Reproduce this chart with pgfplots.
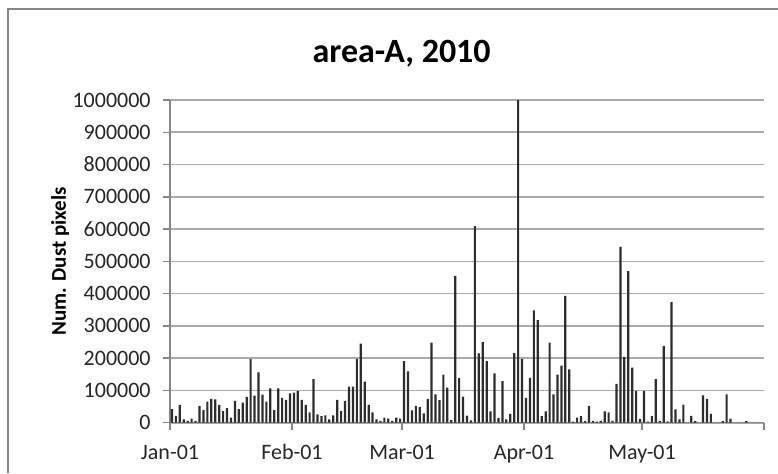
\documentclass[border=0pt]{standalone}
\usepackage{fontspec}
\setmainfont{Carlito}
\usepackage{pgfplots}
\pgfplotsset{compat=1.18}
\usepackage{pgfplotstable}
\definecolor{gridc}{RGB}{170,170,170}
\definecolor{axc}{RGB}{134,134,134}
\definecolor{barc}{RGB}{45,45,45}
\pgfplotstableread{
day val
0 42000
1 21000
2 55000
3 10000
4 6000
5 13000
6 6000
7 52000
8 39000
9 65000
10 74000
11 72000
12 55000
13 36000
14 45000
15 16000
16 68000
17 42000
18 62000
19 80000
20 197000
21 84000
22 156000
23 87000
24 65000
25 106000
26 39000
27 106000
28 77000
29 71000
30 91000
31 93000
32 99000
33 71000
34 55000
35 32000
36 135000
37 26000
38 20000
39 23000
40 10000
41 23000
42 71000
43 36000
44 68000
45 112000
46 112000
47 198000
48 245000
49 127000
50 55000
51 32000
52 10000
53 6000
54 16000
55 13000
56 6000
57 16000
58 13000
59 191000
60 159000
61 38000
62 52000
63 48000
64 29000
65 74000
66 248000
67 88000
68 70000
69 149000
70 109000
71 8000
72 455000
73 139000
74 81000
75 22000
76 7000
77 609000
78 215000
79 250000
80 191000
81 35000
82 153000
83 15000
84 129000
85 10000
86 27000
87 216000
88 1000000
89 198000
90 77000
91 139000
92 348000
93 318000
94 20000
95 35000
96 248000
97 88000
98 149000
99 177000
100 393000
101 165000
102 3000
103 16000
104 20000
105 5000
106 52000
107 6000
108 3000
109 6000
110 35000
111 32000
112 6000
113 120000
114 545000
115 204000
116 470000
117 171000
118 99000
119 12000
120 99000
121 3000
122 20000
123 135000
124 6000
125 238000
126 4000
127 374000
128 41000
129 10000
130 56000
132 21000
133 5000
135 85000
136 74000
137 27000
140 5000
141 88000
142 13000
146 5000
}\dusttable
\begin{document}
\begin{tikzpicture}
\path[use as bounding box] (0,0) rectangle (389pt,236.5pt);
\fill[white] (0,0) rectangle (389pt,236.5pt);
\draw[axc, line width=0.9pt] (4pt,0) -- (4pt,232pt) -- (389pt,232pt);
\begin{axis}[
  at={(85pt,25.15pt)}, anchor=south west,
  scale only axis, width=297pt, height=161.35pt,
  xmin=-0.5, xmax=150.5, ymin=0, ymax=1000000,
  scaled y ticks=false,
  axis x line=bottom, axis y line=left,
  axis line style={-, axc, line width=0.7pt},
  xtick={-0.5,30.5,58.5,89.5,119.5,150.5},
  xticklabels={Jan-01,Feb-01,Mar-01,Apr-01,May-01,},
  ytick={0,100000,200000,300000,400000,500000,600000,700000,800000,900000,1000000},
  yticklabels={0,100000,200000,300000,400000,500000,600000,700000,800000,900000,1000000},
  tick align=outside, major tick length=3.5pt,
  tick style={axc, line width=0.7pt},
  ymajorgrids, grid style={gridc, line width=0.8pt},
  ticklabel style={font=\fontsize{11}{13}\selectfont, text=black!85},
  xticklabel style={anchor=north, inner sep=0pt, text height=7.5pt, text depth=0pt, yshift=-7pt},
  yticklabel style={anchor=east, inner sep=0pt, xshift=-6pt},
  ylabel={Num. Dust pixels},
  every axis y label/.style={at={(axis description cs:-0.185,0.5)}, rotate=90, anchor=center, font=\bfseries\fontsize{10.5}{12}\selectfont},
  clip=false,
]
\addplot[ybar, bar width=1.1pt, fill=barc, draw=none] table[x=day, y=val] {\dusttable};
\node[anchor=base, font=\bfseries\fontsize{17}{20}\selectfont] at (axis description cs:0.39,1) [yshift=19pt] {area-A, 2010};
\end{axis}
\end{tikzpicture}
\end{document}
